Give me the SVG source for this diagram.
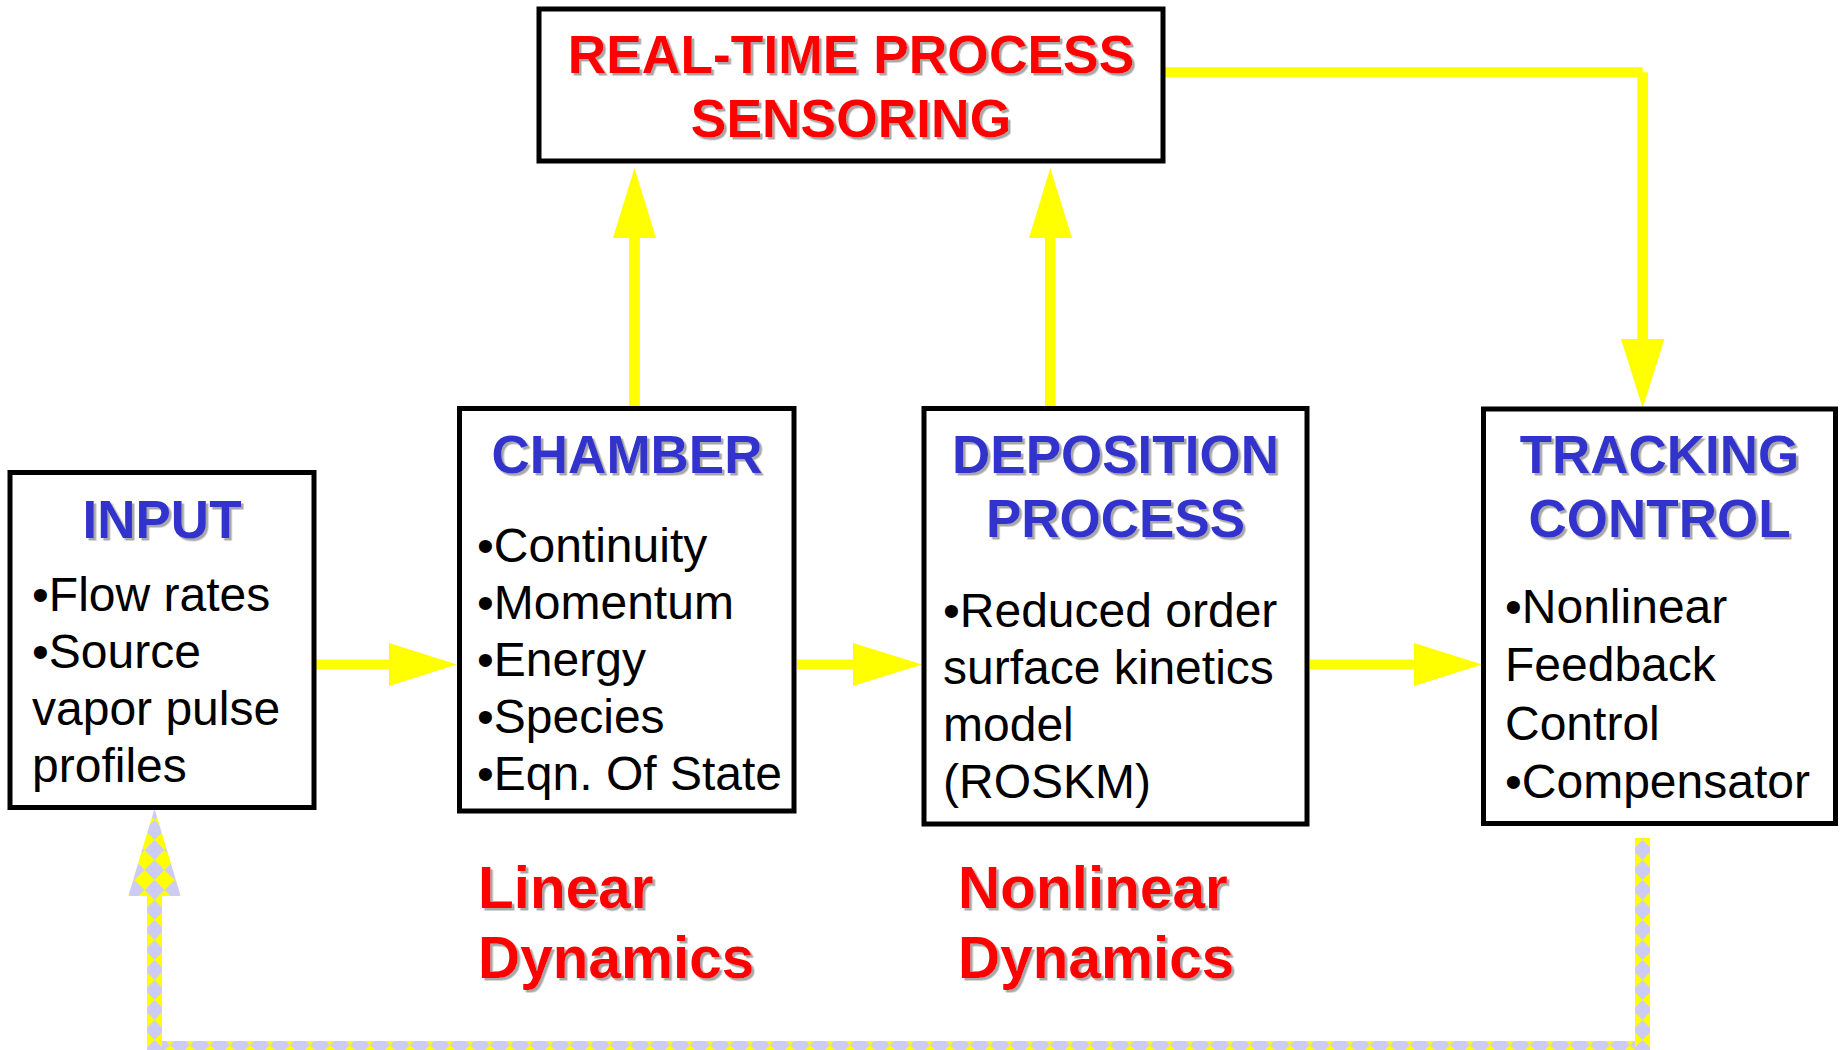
<svg xmlns="http://www.w3.org/2000/svg" width="1840" height="1050" viewBox="0 0 1840 1050">
<style>
.box{fill:#fff;stroke:#000;stroke-width:5}
.ttl{font-family:"Liberation Sans",Arial,sans-serif;font-weight:bold;font-size:53px;fill:#3333CC;text-anchor:middle;filter:url(#sh)}
.red{font-family:"Liberation Sans",Arial,sans-serif;font-weight:bold;font-size:53.4px;fill:#FF0000;filter:url(#sh)}
.lbl{font-size:58.5px}
.body{font-family:"Liberation Sans",Arial,sans-serif;font-size:48px;fill:#000}
.ya{fill:#FFFF00}
.yl{stroke:#FFFF00;fill:none;stroke-linecap:butt}
</style>
<defs>
<filter id="sh" x="-5%" y="-5%" width="110%" height="120%">
<feDropShadow dx="2.5" dy="2.5" stdDeviation="0.4" flood-color="#a8a8a8" flood-opacity="1"/>
</filter>
<pattern id="fbR" width="28.284" height="28.284" patternUnits="userSpaceOnUse" patternTransform="translate(1642.5 0) rotate(45)">
<rect width="28.284" height="28.284" fill="#FFFF00"/>
<rect width="14.142" height="14.142" fill="#CCCCF5"/>
<rect x="14.142" y="14.142" width="14.142" height="14.142" fill="#CCCCF5"/>
</pattern>
<pattern id="fbL" width="28.284" height="28.284" patternUnits="userSpaceOnUse" patternTransform="translate(154.5 0) rotate(45)">
<rect width="28.284" height="28.284" fill="#FFFF00"/>
<rect width="14.142" height="14.142" fill="#CCCCF5"/>
<rect x="14.142" y="14.142" width="14.142" height="14.142" fill="#CCCCF5"/>
</pattern>
<pattern id="fbH" width="28.284" height="28.284" patternUnits="userSpaceOnUse" patternTransform="translate(0 1035) rotate(45)">
<rect width="28.284" height="28.284" fill="#FFFF00"/>
<rect width="14.142" height="14.142" fill="#CCCCF5"/>
<rect x="14.142" y="14.142" width="14.142" height="14.142" fill="#CCCCF5"/>
</pattern>
</defs>
<rect width="1840" height="1050" fill="#fff"/>

<g id="connectors">
<line class="yl" x1="314" y1="664.5" x2="390" y2="664.5" stroke-width="10"/>
<polygon class="ya" points="389,643 457,664.5 389,686"/>
<line class="yl" x1="797" y1="664.5" x2="854" y2="664.5" stroke-width="10"/>
<polygon class="ya" points="853,643 922,664.5 853,686"/>
<line class="yl" x1="1310" y1="664.5" x2="1415" y2="664.5" stroke-width="10"/>
<polygon class="ya" points="1414,643 1482,664.5 1414,686"/>
<line class="yl" x1="634.5" y1="408" x2="634.5" y2="237" stroke-width="10.7"/>
<polygon class="ya" points="613,238 634.5,168 656,238"/>
<line class="yl" x1="1050.3" y1="408" x2="1050.3" y2="237" stroke-width="10.7"/>
<polygon class="ya" points="1029,238 1050.3,168 1072,238"/>
<line class="yl" x1="1163" y1="72.3" x2="1642.7" y2="72.3" stroke-width="10"/>
<line class="yl" x1="1642.7" y1="72.3" x2="1642.7" y2="340" stroke-width="10.7"/>
<polygon class="ya" points="1621,339 1642.7,408 1664.5,339"/>
<rect x="1635" y="838" width="15" height="212" fill="url(#fbR)"/>
<rect x="161.5" y="1041" width="1473.5" height="9" fill="url(#fbH)"/>
<rect x="147" y="895" width="15" height="155" fill="url(#fbL)"/>
<polygon points="128.3,896 154.5,808.5 180.7,896" fill="url(#fbL)"/>
</g>

<g id="node-sensing">
<rect class="box" x="539" y="9" width="624" height="152"/>
<text class="red" x="851" y="73" text-anchor="middle">REAL-TIME PROCESS</text>
<text class="red" x="851" y="137" text-anchor="middle">SENSORING</text>
</g>

<g id="node-input">
<rect class="box" x="10" y="472.5" width="304" height="335"/>
<text class="ttl" x="162" y="538">INPUT</text>
<text class="body" x="32" y="611">•Flow rates</text>
<text class="body" x="32" y="668">•Source</text>
<text class="body" x="32" y="725">vapor pulse</text>
<text class="body" x="32" y="782">profiles</text>
</g>

<g id="node-chamber">
<rect class="box" x="459.5" y="408.5" width="334.5" height="402.5"/>
<text class="ttl" x="627" y="473">CHAMBER</text>
<text class="body" x="477" y="562">•Continuity</text>
<text class="body" x="477" y="619">•Momentum</text>
<text class="body" x="477" y="676">•Energy</text>
<text class="body" x="477" y="733">•Species</text>
<text class="body" x="477" y="790">•Eqn. Of State</text>
</g>

<g id="node-deposition">
<rect class="box" x="924" y="408.5" width="383" height="415.5"/>
<text class="ttl" x="1115.5" y="473">DEPOSITION</text>
<text class="ttl" x="1115.5" y="537">PROCESS</text>
<text class="body" x="943" y="627">•Reduced order</text>
<text class="body" x="943" y="684">surface kinetics</text>
<text class="body" x="943" y="741">model</text>
<text class="body" x="943" y="798">(ROSKM)</text>
</g>

<g id="node-tracking">
<rect class="box" x="1483.5" y="409" width="352" height="414.5"/>
<text class="ttl" x="1659.5" y="473">TRACKING</text>
<text class="ttl" x="1659.5" y="537">CONTROL</text>
<text class="body" x="1505" y="623">•Nonlinear</text>
<text class="body" x="1505" y="681">Feedback</text>
<text class="body" x="1505" y="740">Control</text>
<text class="body" x="1505" y="798">•Compensator</text>
</g>

<g id="labels">
<text class="red lbl" x="478" y="908">Linear</text>
<text class="red lbl" x="478" y="978">Dynamics</text>
<text class="red lbl" x="958" y="908">Nonlinear</text>
<text class="red lbl" x="958" y="978">Dynamics</text>
</g>
</svg>
